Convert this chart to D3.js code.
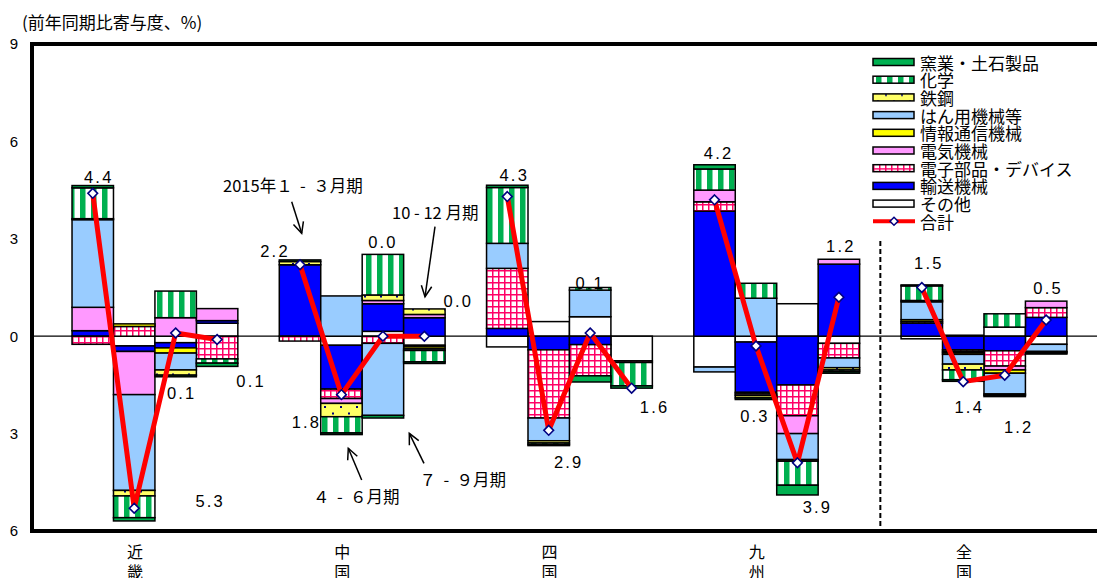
<!DOCTYPE html>
<html>
<head>
<meta charset="utf-8">
<script src="https://cdn.jsdelivr.net/npm/d3@7"></script>
<style>
  body { margin: 0; background: #fff; }
  svg text { font-family: "Liberation Sans", "Noto Sans CJK JP", sans-serif; fill: #000; }
  svg text.jp { font-family: "Noto Sans CJK JP", "Noto Sans", sans-serif; }
</style>
</head>
<body>
<svg id="chart" width="1097" height="578"></svg>
<script>
// ---- data: contribution to year-on-year change (%), by region and quarter ----
const regions  = ["近畿", "中国", "四国", "九州", "全国"];
const quarters = ["1-3", "4-6", "7-9", "10-12"];
const yTicks   = [9, 6, 3, 0, -3, -6];

// each array: 近畿 Q1..Q4, 中国 Q1..Q4, 四国 Q1..Q4, 九州 Q1..Q4, 全国 Q1..Q4
const ceramics            = [0.07, -0.10, -0.05, -0.10,  0.05, -0.05, -0.08, -0.05,  0.07, -0.03, -0.19, -0.07,  0.13, -0.05, -0.30, -0.05,  0.03, -0.05, -0.04, -0.03];
const chemicals           = [0.95, -0.67,  0.82, -0.13,  0.00, -0.50,  1.25, -0.35,  1.72, -0.05,  0.08, -0.72,  0.65,  0.46, -0.74, -0.05,  0.45, -0.30,  0.41, -0.03];
const steel               = [0.03, -0.17, -0.16,  0.00,  0.10, -0.41,  0.17,  0.17,  0.00, -0.07,  0.00,  0.00,  0.00, -0.07, -0.05, -0.07,  0.04, -0.18, -0.04, -0.02];
const generalMachinery    = [2.70, -2.95, -0.52,  0.00,  0.00,  1.24, -2.22, -0.05,  0.77, -0.70,  0.82,  0.00, -0.15,  1.17, -0.80, -0.30,  0.55, -0.30, -0.64, -0.22];
const ictEquipment        = [0.00,  0.08, -0.16,  0.00,  0.00,  0.00,  0.00, -0.06,  0.00,  0.00,  0.00,  0.00,  0.00,  0.00,  0.00,  0.00,  0.06, -0.05, -0.10,  0.00];
const electricalMachinery = [0.72, -1.33,  0.57,  0.37,  0.00, -0.15,  0.10,  0.10,  0.00,  0.00,  0.00,  0.00,  0.36, -0.05, -0.55,  0.15,  0.00, -0.04, -0.12,  0.20];
const electronicParts     = [-0.25, 0.30,  0.00, -0.70, -0.15, -0.29, -0.22, -0.05,  1.85, -2.10, -0.96, -0.05,  0.29, -0.05, -0.95, -0.45,  0.05, -0.05, -0.47,  0.30];
const transportEquipment  = [0.17, -0.17, -0.16,  0.08,  2.20, -1.35,  0.85,  0.57,  0.24, -0.42, -0.26,  0.00,  3.85, -1.55, -1.50,  2.22,  0.40, -0.42, -0.45,  0.58];
const others              = [0.00, -0.30, -0.20,  0.40,  0.00, -0.28,  0.15, -0.28, -0.33,  0.45,  0.60, -0.76, -0.95, -0.18,  1.00, -0.22, -0.08,  0.03,  0.28, -0.25];
const total               = [4.4, -5.3, 0.1, -0.1,  2.2, -1.8, 0.0, 0.0,  4.3, -2.9, 0.1, -1.6,  4.2, -0.3, -3.9, 1.2,  1.5, -1.4, -1.2, 0.5];

const seriesNames = ["窯業・土石製品", "化学", "鉄鋼", "はん用機械等", "情報通信機械", "電気機械", "電子部品・デバイス", "輸送機械", "その他"];
const seriesValues = [ceramics, chemicals, steel, generalMachinery, ictEquipment, electricalMachinery, electronicParts, transportEquipment, others];
const totalName = "合計";

// ---- styling / layout ----
const W = 1097, H = 578;
const fills = {
  "窯業・土石製品": "#00b050",
  "化学": "url(#pChem)",
  "鉄鋼": "url(#pSteel)",
  "はん用機械等": "#99ccff",
  "情報通信機械": "#ffff00",
  "電気機械": "#ff99ff",
  "電子部品・デバイス": "url(#pElec)",
  "輸送機械": "#0000ff",
  "その他": "#ffffff"
};
// label nudges relative to each total marker (dx, dy)
const labelNudge = [
  [5, -16], [75, -7], [5, 60], [33, 42],
  [-26, -14], [-36, 27], [-1, -94], [33, -35],
  [6, -22], [19, 32], [-1, -50], [22, 19],
  [3, -47], [-2, 70], [19, 44], [1, -51],
  [6, -25], [5, 25], [13, 52], [1, -32]
];
const notes = [
  { text: "2015年１  -  ３月期", tx: 223,   ty: 185, from: [291.7, 201.7], to: [301.7, 233.3] },
  { text: "10 - 12 月期",        tx: 392,   ty: 212, from: [435, 226.7],   to: [425, 296.7] },
  { text: "４  -  ６月期",       tx: 313,   ty: 496, from: [361.7, 480],   to: [348.3, 448.3] },
  { text: "７  -  ９月期",       tx: 419.5, ty: 479, from: [424, 463.3],   to: [409.3, 433.3] }
];

const svg = d3.select("#chart");
const defs = svg.append("defs");

// fill patterns
const pChem = defs.append("pattern").attr("id", "pChem").attr("patternUnits", "userSpaceOnUse")
  .attr("width", 11).attr("height", 11);
pChem.append("rect").attr("width", 11).attr("height", 11).attr("fill", "#fff");
pChem.append("rect").attr("x", 3).attr("width", 5.5).attr("height", 11).attr("fill", "#00b050");

const pSteel = defs.append("pattern").attr("id", "pSteel").attr("patternUnits", "userSpaceOnUse")
  .attr("width", 16).attr("height", 13);
pSteel.append("rect").attr("width", 16).attr("height", 13).attr("fill", "#ffff66");
pSteel.append("rect").attr("x", 4).attr("y", 3).attr("width", 2).attr("height", 2).attr("fill", "#000080");
pSteel.append("rect").attr("x", 12).attr("y", 9.5).attr("width", 2).attr("height", 2).attr("fill", "#000080");

const pElec = defs.append("pattern").attr("id", "pElec").attr("patternUnits", "userSpaceOnUse")
  .attr("width", 6).attr("height", 6);
pElec.append("rect").attr("width", 6).attr("height", 6).attr("fill", "#fff");
pElec.append("rect").attr("x", 0).attr("width", 1.5).attr("height", 6).attr("fill", "#ff0066");
pElec.append("rect").attr("y", 0).attr("width", 6).attr("height", 1.5).attr("fill", "#ff0066");

// scales
const xGroup = d3.scaleBand().domain(regions).range([51.3, 1087.6]).paddingInner(0.2).paddingOuter(0.1);
const xInner = d3.scaleBand().domain(quarters).range([0, xGroup.bandwidth()]);
const y = d3.scaleLinear().domain([-6, 9]).range([531, 44]);

// one row per bar
const rows = [];
regions.forEach((r, gi) => quarters.forEach((q, qi) => {
  const i = gi * quarters.length + qi;
  const row = { region: r, quarter: q, index: i, total: total[i] };
  seriesNames.forEach((s, si) => row[s] = seriesValues[si][i]);
  rows.push(row);
}));
const barX = d => xGroup(d.region) + xInner(d.quarter);
const barC = d => barX(d) + xInner.bandwidth() / 2;

// stacking: その他 sits next to the axis, 窯業・土石製品 is outermost
const stackOrder = seriesNames.slice().reverse();
const stacked = d3.stack().keys(stackOrder).offset(d3.stackOffsetDiverging)(rows);

// zero line
svg.append("line").attr("x1", 32).attr("x2", W).attr("y1", y(0)).attr("y2", y(0))
  .attr("stroke", "#000").attr("stroke-width", 1.2);

// stacked bars
const layers = svg.append("g").selectAll("g").data(stacked).join("g")
  .attr("fill", s => fills[s.key]);
layers.selectAll("rect")
  .data(s => s.filter(p => p.data[s.key] !== 0))
  .join("rect")
  .attr("x", p => barX(p.data))
  .attr("width", xInner.bandwidth())
  .attr("y", p => y(Math.max(p[0], p[1])))
  .attr("height", p => Math.abs(y(p[0]) - y(p[1])))
  .attr("stroke", "#000").attr("stroke-width", 1.5);

// separator before the national total
const sepX = (xGroup("九州") + xGroup.bandwidth() + xGroup("全国")) / 2;
svg.append("line").attr("x1", sepX).attr("x2", sepX).attr("y1", 241).attr("y2", 531)
  .attr("stroke", "#000").attr("stroke-width", 2).attr("stroke-dasharray", "5,3");

// total line per region
const line = d3.line().x(barC).y(d => y(d.total));
const diamond = d3.symbol().type(d3.symbolDiamond2).size(60);
regions.forEach(r => {
  const pts = rows.filter(d => d.region === r);
  svg.append("path").datum(pts).attr("d", line)
    .attr("fill", "none").attr("stroke", "#ff0000").attr("stroke-width", 5)
    .attr("stroke-linejoin", "round");
});
svg.append("g").selectAll("path").data(rows).join("path")
  .attr("transform", d => `translate(${barC(d)},${y(d.total)})`)
  .attr("d", diamond)
  .attr("fill", "#fff").attr("stroke", "#000080").attr("stroke-width", 1.6);

// value labels
const fmt = d3.format(".1f");
svg.append("g").selectAll("text").data(rows).join("text")
  .attr("x", d => barC(d) + labelNudge[d.index][0] + 1)
  .attr("y", d => y(d.total) + labelNudge[d.index][1])
  .attr("text-anchor", "middle").attr("dominant-baseline", "central")
  .attr("font-size", 16.5).attr("letter-spacing", 2.2)
  .text(d => fmt(Math.abs(d.total)));

// frame
svg.append("rect").attr("x", 32).attr("y", 44).attr("width", W).attr("height", 531 - 44)
  .attr("fill", "none").attr("stroke", "#000").attr("stroke-width", 4);

// y axis labels
const yAxis = d3.axisLeft(y).tickValues(yTicks).tickSize(0).tickPadding(14)
  .tickFormat(v => String(Math.abs(v)));
const ya = svg.append("g").attr("transform", "translate(32,0)").call(yAxis);
ya.select(".domain").remove();
ya.selectAll("text").attr("font-size", 15).attr("font-family", "Liberation Sans, sans-serif").attr("fill", "#000");

// unit title
svg.append("text").attr("class", "jp").attr("x", 22).attr("y", 29).attr("font-size", 17)
  .text("(前年同期比寄与度、%)");

// region labels, written vertically
const cat = svg.append("g").selectAll("text").data(regions).join("text")
  .attr("class", "jp").attr("font-size", 16).attr("text-anchor", "middle")
  .attr("x", r => xGroup(r) + xGroup.bandwidth() / 2 - 20);
cat.selectAll("tspan").data(r => Array.from(r).map(c => ({ c, r }))).join("tspan")
  .attr("x", d => xGroup(d.r) + xGroup.bandwidth() / 2 - 20)
  .attr("y", (d, i) => 558 + i * 20)
  .text(d => d.c);

// period annotations with arrows
const ann = svg.append("g");
notes.forEach(n => {
  ann.append("text").attr("class", "jp").attr("x", n.tx).attr("y", n.ty)
    .attr("dominant-baseline", "central").attr("font-size", 16.5)
    .style("white-space", "pre").text(n.text);
  ann.append("line").attr("x1", n.from[0]).attr("y1", n.from[1]).attr("x2", n.to[0]).attr("y2", n.to[1])
    .attr("stroke", "#000").attr("stroke-width", 1.5);
  const a = Math.atan2(n.to[1] - n.from[1], n.to[0] - n.from[0]);
  const L = 12, s = 0.45;
  const p1 = [n.to[0] - L * Math.cos(a - s), n.to[1] - L * Math.sin(a - s)];
  const p2 = [n.to[0] - L * Math.cos(a + s), n.to[1] - L * Math.sin(a + s)];
  ann.append("path").attr("d", `M${p1}L${n.to}L${p2}`)
    .attr("fill", "none").attr("stroke", "#000").attr("stroke-width", 1.5);
});

// legend
const legendNames = seriesNames.concat([totalName]);
const lg = svg.append("g").attr("transform", "translate(873,62)");
const item = lg.selectAll("g").data(legendNames).join("g")
  .attr("transform", (d, i) => `translate(0,${i * 17.7})`);
item.filter(d => d !== totalName).append("rect")
  .attr("x", 0).attr("y", -3.5).attr("width", 41).attr("height", 7)
  .attr("fill", d => fills[d]).attr("stroke", "#000").attr("stroke-width", 1.5);
const tot = item.filter(d => d === totalName);
tot.append("line").attr("x1", 0).attr("x2", 42).attr("stroke", "#ff0000").attr("stroke-width", 4);
tot.append("path").attr("transform", "translate(21,0)").attr("d", d3.symbol().type(d3.symbolDiamond2).size(40))
  .attr("fill", "#fff").attr("stroke", "#000080").attr("stroke-width", 1.5);
item.append("text").attr("class", "jp").attr("x", 47).attr("y", 0)
  .attr("dominant-baseline", "central").attr("font-size", 17).text(d => d);
</script>
</body>
</html>
